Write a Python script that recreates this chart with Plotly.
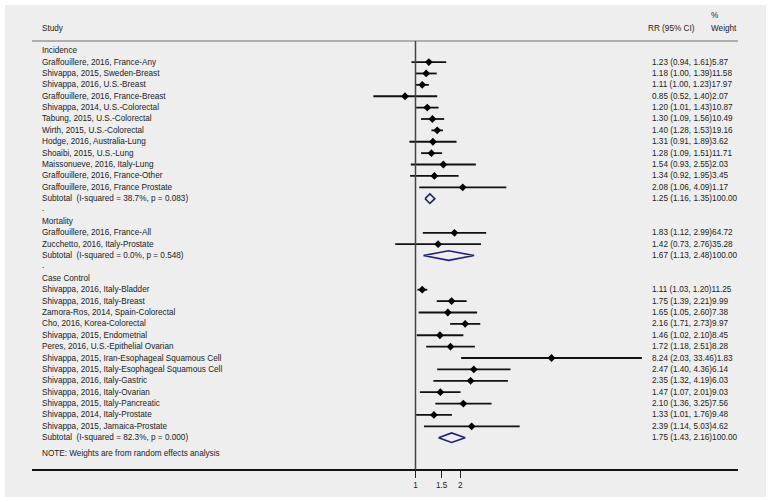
import plotly.graph_objects as go

# ---------------- data ----------------
inc_study = ["Graffouillere, 2016, France-Any", "Shivappa, 2015, Sweden-Breast",
             "Shivappa, 2016, U.S.-Breast", "Graffouillere, 2016, France-Breast",
             "Shivappa, 2014, U.S.-Colorectal", "Tabung, 2015, U.S.-Colorectal",
             "Wirth, 2015, U.S.-Colorectal", "Hodge, 2016, Australia-Lung",
             "Shoaibi, 2015, U.S.-Lung", "Maissonueve, 2016, Italy-Lung",
             "Graffouillere, 2016, France-Other", "Graffouillere, 2016, France Prostate"]
inc_rr = [1.23, 1.18, 1.11, 0.85, 1.20, 1.30, 1.40, 1.31, 1.28, 1.54, 1.34, 2.08]
inc_lo = [0.94, 1.00, 1.00, 0.52, 1.01, 1.09, 1.28, 0.91, 1.09, 0.93, 0.92, 1.06]
inc_hi = [1.61, 1.39, 1.23, 1.40, 1.43, 1.56, 1.53, 1.89, 1.51, 2.55, 1.95, 4.09]
inc_w = ["5.87", "11.58", "17.97", "2.07", "10.87", "10.49", "19.16", "3.62", "11.71", "2.03", "3.45", "1.17"]
inc_sub_label = "Subtotal\u00a0 (I-squared = 38.7%, p = 0.083)"
inc_sub = [1.25, 1.16, 1.35]

mor_study = ["Graffouillere, 2016, France-All", "Zucchetto, 2016, Italy-Prostate"]
mor_rr = [1.83, 1.42]
mor_lo = [1.12, 0.73]
mor_hi = [2.99, 2.76]
mor_w = ["64.72", "35.28"]
mor_sub_label = "Subtotal\u00a0 (I-squared = 0.0%, p = 0.548)"
mor_sub = [1.67, 1.13, 2.48]

cc_study = ["Shivappa, 2016, Italy-Bladder", "Shivappa, 2016, Italy-Breast",
            "Zamora-Ros, 2014, Spain-Colorectal", "Cho, 2016, Korea-Colorectal",
            "Shivappa, 2015, Endometrial", "Peres, 2016, U.S.-Epithelial Ovarian",
            "Shivappa, 2015, Iran-Esophageal Squamous Cell",
            "Shivappa, 2015, Italy-Esophageal Squamous Cell",
            "Shivappa, 2016, Italy-Gastric", "Shivappa, 2016, Italy-Ovarian",
            "Shivappa, 2015, Italy-Pancreatic", "Shivappa, 2014, Italy-Prostate",
            "Shivappa, 2015, Jamaica-Prostate"]
cc_rr = [1.11, 1.75, 1.65, 2.16, 1.46, 1.72, 8.24, 2.47, 2.35, 1.47, 2.10, 1.33, 2.39]
cc_lo = [1.03, 1.39, 1.05, 1.71, 1.02, 1.18, 2.03, 1.40, 1.32, 1.07, 1.36, 1.01, 1.14]
cc_hi = [1.20, 2.21, 2.60, 2.73, 2.10, 2.51, 33.46, 4.36, 4.19, 2.01, 3.25, 1.76, 5.03]
cc_w = ["11.25", "9.99", "7.38", "9.97", "8.45", "8.28", "1.83", "6.14", "6.03", "9.03", "7.56", "9.48", "4.62"]
cc_sub_label = "Subtotal\u00a0 (I-squared = 82.3%, p = 0.000)"
cc_sub = [1.75, 1.43, 2.16]

group_names = ["Incidence", "Mortality", "Case Control"]
tick_vals = [1, 1.5, 2]
tick_text = ["1", "1.5", "2"]
note_text = "NOTE: Weights are from random effects analysis"

# ---------------- layout helpers ----------------
W, H = 771, 502
ROW0 = 50.7
STEP = 11.382
X1PX = 415.5
PX_PER_DEC = 148.5
AX_L, AX_R = 32, 738
AX_Y = 470


def px2row(p):
    return (p - ROW0) / STEP


def log_at(px):
    return (px - X1PX) / PX_PER_DEC


TXT = "#222222"
FONT = dict(family="Liberation Sans, Arial, Helvetica, sans-serif", size=8.2, color=TXT)

groups = [
    (group_names[0], inc_study, inc_rr, inc_lo, inc_hi, inc_w, inc_sub_label, inc_sub),
    (group_names[1], mor_study, mor_rr, mor_lo, mor_hi, mor_w, mor_sub_label, mor_sub),
    (group_names[2], cc_study, cc_rr, cc_lo, cc_hi, cc_w, cc_sub_label, cc_sub),
]

annotations = []
ci_x, ci_y, pt_x, pt_y = [], [], [], []
dia_x, dia_y = [], []


def left_text(text, row):
    annotations.append(dict(text=text, x=39.5 / W, xref="paper", y=row, yref="y",
                            xanchor="left", yanchor="middle", showarrow=False, font=FONT))


def rr_text(rr, lo, hi, w, row):
    annotations.append(dict(text=f"{rr:.2f} ({lo:.2f}, {hi:.2f}){w}", x=650 / W, xref="paper",
                            y=row, yref="y", xanchor="left", yanchor="middle",
                            showarrow=False, font=FONT))


row = 0
for gi, (gname, study, rr, lo, hi, w, sub_label, sub) in enumerate(groups):
    left_text(gname, row)
    row += 1
    for s, r, l, h, ww in zip(study, rr, lo, hi, w):
        left_text(s, row)
        rr_text(r, l, h, ww, row)
        ci_x += [l, h, None]
        ci_y += [row, row, None]
        pt_x.append(r)
        pt_y.append(row)
        row += 1
    left_text(sub_label, row)
    rr_text(sub[0], sub[1], sub[2], "100.00", row)
    hh = 0.42
    dia_x += [sub[1], sub[0], sub[2], sub[0], sub[1], None]
    dia_y += [row, row - hh, row, row + hh, row, None]
    row += 1
    if gi < len(groups) - 1:
        left_text(".", row - 0.15)
        row += 1

note_row = row + 0.37
left_text(note_text, note_row)

# headers
annotations.append(dict(text="Study", x=39.5 / W, xref="paper", y=px2row(28), yref="y",
                        xanchor="left", yanchor="middle", showarrow=False, font=FONT))
annotations.append(dict(text="RR (95% CI)", x=646 / W, xref="paper", y=px2row(28), yref="y",
                        xanchor="left", yanchor="middle", showarrow=False, font=FONT))
annotations.append(dict(text="Weight", x=708.5 / W, xref="paper", y=px2row(28), yref="y",
                        xanchor="left", yanchor="middle", showarrow=False, font=FONT))
annotations.append(dict(text="%", x=709 / W, xref="paper", y=px2row(15), yref="y",
                        xanchor="left", yanchor="middle", showarrow=False, font=FONT))

fig = go.Figure()
fig.add_trace(go.Scatter(x=ci_x, y=ci_y, mode="lines", line=dict(color="#111111", width=1.8),
                         hoverinfo="skip", showlegend=False))
fig.add_trace(go.Scatter(x=pt_x, y=pt_y, mode="markers",
                         marker=dict(symbol="diamond", size=6, color="#000000"),
                         showlegend=False))
fig.add_trace(go.Scatter(x=dia_x, y=dia_y, mode="lines", line=dict(color="#1c2472", width=1.6),
                         hoverinfo="skip", showlegend=False))

shapes = [
    # grey panel
    dict(type="rect", xref="paper", yref="paper", x0=5 / W, x1=766 / W, y0=1 - 497 / H, y1=1 - 5 / H,
         fillcolor="#eeeeee", line=dict(width=0), layer="below"),
    # header rule
    dict(type="line", xref="paper", yref="paper", x0=AX_L / W, x1=AX_R / W, y0=1 - 41 / H, y1=1 - 41 / H,
         line=dict(color="#9a9a9a", width=1.5)),
    # null line at RR = 1
    dict(type="line", xref="x", yref="y", x0=1, x1=1, y0=px2row(41), y1=px2row(AX_Y),
         line=dict(color="#444444", width=1.5)),
]

fig.update_layout(
    width=W, height=H,
    margin=dict(l=0, r=0, t=0, b=0),
    paper_bgcolor="#ffffff", plot_bgcolor="rgba(0,0,0,0)",
    showlegend=False,
    annotations=annotations,
    shapes=shapes,
    xaxis=dict(type="log", domain=[AX_L / W, AX_R / W],
               range=[log_at(AX_L), log_at(AX_R)],
               anchor="free", position=1 - AX_Y / H,
               showgrid=False, zeroline=False,
               showline=True, linecolor="#111111", linewidth=1.5,
               ticks="outside", ticklen=7, tickwidth=1, tickcolor="#222222",
               tickvals=tick_vals, ticktext=tick_text,
               tickfont=dict(family="Liberation Sans, Arial, sans-serif", size=8.2, color=TXT)),
    yaxis=dict(range=[px2row(H), px2row(0)], domain=[0, 1], visible=False, showgrid=False),
)

fig.write_html("out.html", config={"displayModeBar": False},
               post_script="document.body.style.margin='0';document.body.style.overflow='hidden';")
